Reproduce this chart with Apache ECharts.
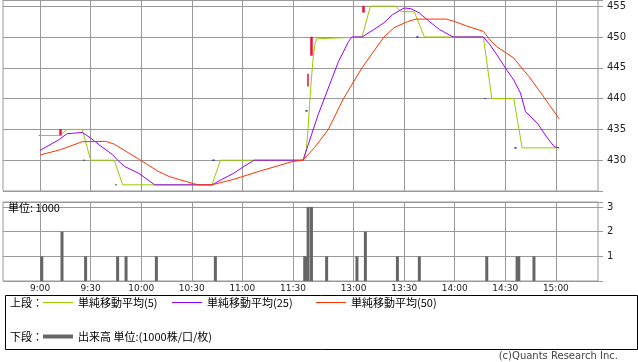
<!DOCTYPE html>
<html>
<head>
<meta charset="utf-8">
<script src="https://cdn.jsdelivr.net/npm/echarts@6/dist/echarts.min.js"></script>
<style>html,body{margin:0;padding:0;background:#fff;}#c{width:638px;height:362px;}</style>
</head>
<body>
<div id="c"></div>
<script>
// ---- axis domain: 1-minute slots, morning session, short lunch gap, afternoon session
const morningSession = ['8:38', '11:30'];
const afternoonSession = ['12:30', '15:25'];
const lunchGapSlots = 5;
const tickLabels = ['9:00','9:30','10:00','10:30','11:00','11:30','13:00','13:30','14:00','14:30','15:00'];

// ---- price panel: simple moving averages [time, value]
const sma5 = [
  ['9:00',434],['9:12',434],['9:16',435],['9:25',435],['9:30',430],['9:44',430],['9:49',426],
  ['10:42',426],['10:47',430],['11:30',430],['12:30',430],['12:31',430.4],['12:32',431.9],
  ['12:33',435.2],['12:34',439.5],['12:35',443.3],['12:36',446.6],['12:37',448.7],['12:38',449.7],
  ['12:39',450],['13:05',450],['13:10',455],['13:25',455],['13:28',454.1],['13:36',454.1],
  ['13:42',450],['14:17',450],['14:22',440],['14:35',440],['14:40',432],['15:02',432]
];
const sma25 = [
  ['9:00',431.6],['9:11',433.3],['9:16',434.3],['9:25',434.5],['9:30',433.6],['9:35',432.5],
  ['9:43',430.9],['9:46',430],['9:50',429],['9:59',427.8],['10:08',426],['10:42',426],
  ['10:48',426.9],['10:55',427.9],['11:01',429],['11:07',430],['11:30',430],['12:30',430],
  ['12:31',430],['12:35',434.1],['12:39',437.4],['12:45',441.7],['12:51',446],['12:57',449.25],
  ['12:59',450],['13:05',450],['13:12',451.2],['13:18',452.3],['13:23',453.6],['13:28',454.4],
  ['13:30',454.7],['13:34',454.6],['13:39',453.9],['13:45',452.5],['13:51',451.2],['13:59',450],
  ['14:17',450],['14:21',448.7],['14:25',447.1],['14:30',445],['14:35',443],['14:39',440.9],
  ['14:42',437.9],['14:49',436],['14:55',433.6],['14:59',432.2],['15:02',432]
];
const sma50 = [
  ['9:00',430.85],['9:12',431.7],['9:25',433],['9:39',433.05],['9:44',432.6],['9:59',430.1],
  ['10:10',428.2],['10:17',427.3],['10:31',426.2],['10:34',426],['10:42',426],['10:55',426.9],
  ['11:10',428.2],['11:30',429.8],['12:30',430],['12:31',430],['12:37',432.1],['12:45',435],
  ['12:54',440],['13:05',445],['13:18',450],['13:24',451.5],['13:32',452.5],['13:37',452.9],
  ['13:55',452.9],['14:00',452.5],['14:07',451.8],['14:17',450.9],['14:21',449.5],['14:25',448.4],
  ['14:30',447.5],['14:35',446.6],['14:39',445.2],['14:44',443.6],['14:49',441.7],['14:52',440.6],
  ['14:56',439],['15:00',437.5],['15:02',436.7]
];
// ---- candles [time, open, close, low, high]
const candlesUp = [
  ['9:12',434,435,434,435],['12:33',442,444,442,444],['12:35',447,450,447,450],['13:06',454,455,454,455]
];
const candlesFlat = [
  ['9:00',434,434,434,434],['9:26',430,430,430,430],['9:45',426,426,426,426],['10:43',430,430,430,430],
  ['12:32',438,438,438,438],['13:38',450,450,450,450],['14:18',440,440,440,440],['14:36',432,432,432,432]
];
// ---- volume panel [time, volume (1000 shares)]
const volume = [
  ['9:01',1],['9:13',2],['9:27',1],['9:46',1],['9:51',1],['10:09',1],['10:44',1],
  ['12:31',1],['12:32',1],['12:33',3],['12:35',3],['12:44',1],['13:02',1],['13:07',2],
  ['13:26',1],['13:39',1],['14:19',1],['14:37',1],['14:38',1],['14:47',1]
];
const seriesNames = ['単純移動平均(5)','単純移動平均(25)','単純移動平均(50)','出来高 単位:(1000株/口/枚)'];
const seriesColors = ['#99cc00', '#9900ff', '#ff3300', '#666666'];

function toMin(s){ const p = s.split(':').map(Number); return p[0]*60 + p[1]; }
function fmt(m){ return Math.floor(m/60) + ':' + String(m%60).padStart(2,'0'); }
const categories = [];
for (let m = toMin(morningSession[0]); m <= toMin(morningSession[1]); m++) categories.push(fmt(m));
for (let g = 1; g <= lunchGapSlots; g++) categories.push('lunch' + g);
for (let m = toMin(afternoonSession[0]); m <= toMin(afternoonSession[1]); m++) categories.push(fmt(m));

const isTick = (i, v) => tickLabels.indexOf(v) >= 0;
const GRID = '#999999';
const numFont = 'DejaVu Sans';
const cjk = 'Noto Sans CJK JP';

function legendFor(i, left, top, h) {
  return {left: left, top: top, padding: 0, itemGap: 0, selectedMode: false, icon: 'rect',
    itemWidth: 30, itemHeight: h,
    data: [{name: seriesNames[i], itemStyle: {color: seriesColors[i], borderWidth: 0}}],
    textStyle: {fontFamily: cjk, fontSize: 11, color: '#000', padding: [0, 0, 0, 0]}};
}

const chart = echarts.init(document.getElementById('c'), null, {renderer: 'canvas'});
chart.setOption({
  animation: false,
  backgroundColor: '#ffffff',
  grid: [
    {left: 3, top: 0, width: 595, height: 191, show: true, borderColor: GRID, borderWidth: 1, backgroundColor: 'transparent'},
    {left: 3, top: 202, width: 595, height: 79, show: true, borderColor: GRID, borderWidth: 1, backgroundColor: 'transparent'}
  ],
  xAxis: [
    {type: 'category', gridIndex: 0, data: categories, boundaryGap: false,
     axisLine: {show: false}, axisTick: {show: false}, axisLabel: {show: false},
     splitLine: {show: true, interval: isTick, lineStyle: {color: GRID, width: 1}}},
    {type: 'category', gridIndex: 1, data: categories, boundaryGap: false,
     axisLine: {show: false}, axisTick: {show: false},
     axisLabel: {show: true, interval: isTick, margin: 3, fontFamily: numFont, fontSize: 9, color: '#222'},
     splitLine: {show: true, interval: isTick, lineStyle: {color: GRID, width: 1}}}
  ],
  yAxis: [
    {type: 'value', gridIndex: 0, position: 'right', min: 425, max: 456, interval: 5,
     axisLine: {show: false}, axisTick: {show: true, length: 5, lineStyle: {color: GRID}},
     axisLabel: {margin: 9, fontFamily: numFont, fontSize: 10, color: '#222',
       formatter: v => (v >= 430 && v <= 455 && v % 5 === 0) ? String(v) : ''},
     splitLine: {show: true, lineStyle: {color: GRID, width: 1}}},
    {type: 'value', gridIndex: 1, position: 'right', min: 0, max: 3.2, interval: 1,
     axisLine: {show: false}, axisTick: {show: true, length: 5, lineStyle: {color: GRID}},
     axisLabel: {margin: 9, fontFamily: numFont, fontSize: 10, color: '#222',
       formatter: v => (v >= 1 && v <= 3 && Number.isInteger(v)) ? String(v) : ''},
     splitLine: {show: true, lineStyle: {color: GRID, width: 1}}}
  ],
  legend: [
    legendFor(0, 43, 297, 1),
    legendFor(1, 172, 297, 1),
    legendFor(2, 316, 297, 1),
    legendFor(3, 43, 331, 4)
  ],
  graphic: [
    {type: 'rect', left: 3, top: 293, z: 0, shape: {width: 632, height: 54}, style: {fill: 'none', stroke: '#000', lineWidth: 1}},
    {type: 'text', left: 10, top: 297, style: {text: '上段：', font: '11px "Noto Sans CJK JP"', fill: '#000'}},
    {type: 'text', left: 10, top: 331, style: {text: '下段：', font: '11px "Noto Sans CJK JP"', fill: '#000'}},
    {type: 'text', left: 8, top: 202, z: 10, style: {text: '単位: 1000', font: '11px "Noto Sans CJK JP"', fill: '#000'}},
    {type: 'text', right: 20, top: 351, style: {text: '(c)Quants Research Inc.', font: '10px "DejaVu Sans"', fill: '#444'}}
  ],
  series: [
    {name: 'candlesFlat', type: 'candlestick', xAxisIndex: 0, yAxisIndex: 0, data: candlesFlat,
     encode: {x: 0, y: [1, 2, 3, 4]}, barWidth: 2, z: 1,
     itemStyle: {color: '#1a2f8f', color0: '#1a2f8f', borderColor: '#1a2f8f', borderColor0: '#1a2f8f', borderColorDoji: '#1a2f8f', borderWidth: 1}},
    {name: 'candlesUp', type: 'candlestick', xAxisIndex: 0, yAxisIndex: 0, data: candlesUp,
     encode: {x: 0, y: [1, 2, 3, 4]}, barWidth: 2, z: 1,
     itemStyle: {color: '#f20a3a', color0: '#f20a3a', borderColor: '#f20a3a', borderColor0: '#f20a3a', borderWidth: 0.5}},
    {name: seriesNames[0], type: 'line', xAxisIndex: 0, yAxisIndex: 0, data: sma5, showSymbol: false, z: 3,
     color: seriesColors[0], itemStyle: {color: seriesColors[0]}, lineStyle: {color: seriesColors[0], width: 1}},
    {name: seriesNames[1], type: 'line', xAxisIndex: 0, yAxisIndex: 0, data: sma25, showSymbol: false, z: 3,
     color: seriesColors[1], itemStyle: {color: seriesColors[1]}, lineStyle: {color: seriesColors[1], width: 1}},
    {name: seriesNames[2], type: 'line', xAxisIndex: 0, yAxisIndex: 0, data: sma50, showSymbol: false, z: 3,
     color: seriesColors[2], itemStyle: {color: seriesColors[2]}, lineStyle: {color: seriesColors[2], width: 1}},
    {name: seriesNames[3], type: 'bar', xAxisIndex: 1, yAxisIndex: 1, data: volume, barWidth: 3,
     color: seriesColors[3], itemStyle: {color: seriesColors[3]}}
  ]
});
</script>
</body>
</html>
